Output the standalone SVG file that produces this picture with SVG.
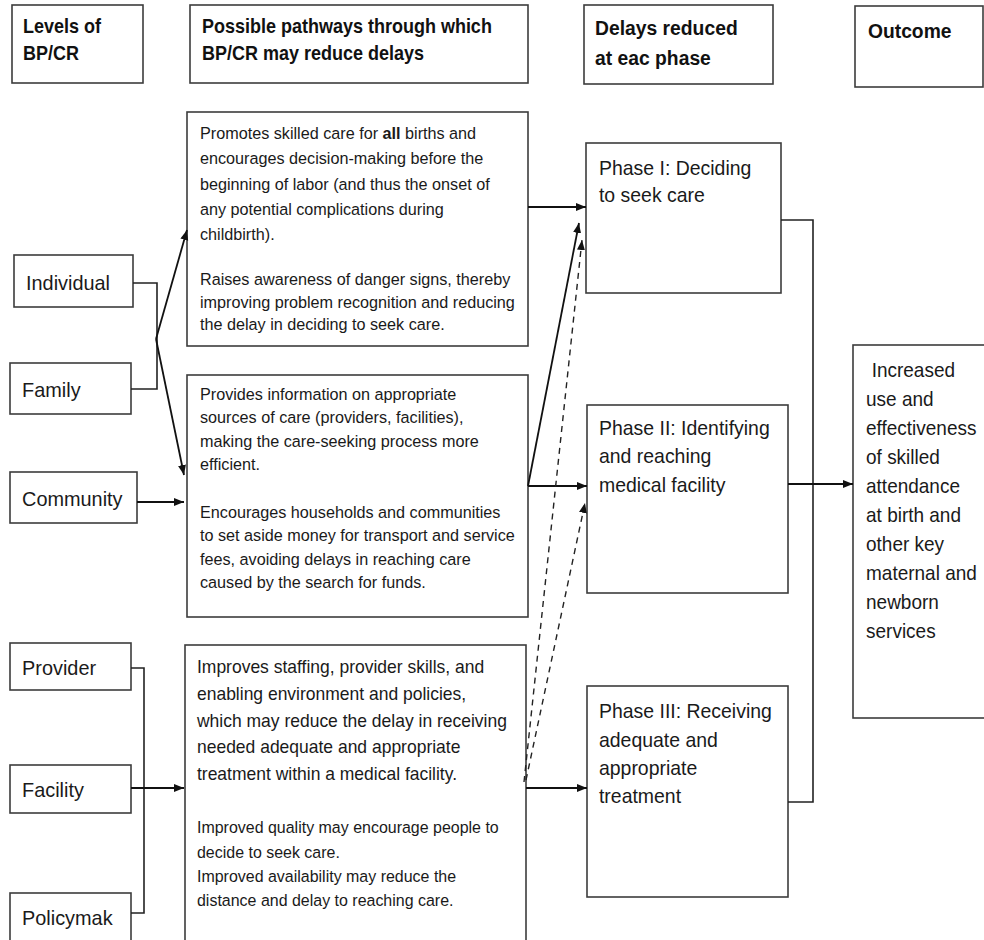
<svg xmlns="http://www.w3.org/2000/svg" width="984" height="940" viewBox="0 0 984 940">
<defs>
<marker id="arr" markerUnits="userSpaceOnUse" markerWidth="11" markerHeight="9" refX="10" refY="4" orient="auto">
<path d="M0,0 L10,4 L0,8 z" fill="#111"/>
</marker>
<style>
.box{fill:#fff;stroke:#3c3c3c;stroke-width:1.6}
.hd{font-family:"Liberation Sans",Arial,sans-serif;font-weight:bold;fill:#111;font-size:20px}
.t{font-family:"Liberation Sans",Arial,sans-serif;fill:#1a1a1a}
.c{fill:none;stroke:#222;stroke-width:1.6}
.a{fill:none;stroke:#111;stroke-width:1.8;marker-end:url(#arr)}
.d{fill:none;stroke:#222;stroke-width:1.4;stroke-dasharray:6,5;marker-end:url(#arr)}
</style>
</defs>
<rect width="984" height="940" fill="#fff"/>

<g id="hdr-levels"><rect class="box" x="12" y="5" width="131" height="78"/>
<text class="hd" transform="matrix(0.9 0 0 1 2.3 0)"><tspan x="23" y="33">Levels of</tspan><tspan x="23" y="60">BP/CR</tspan></text></g>
<g id="hdr-pathways"><rect class="box" x="190" y="5" width="338" height="78"/>
<text class="hd" transform="matrix(0.9 0 0 1 20.2 0)"><tspan x="202" y="33">Possible pathways through which</tspan><tspan x="202" y="60">BP/CR may reduce delays</tspan></text></g>
<g id="hdr-delays"><rect class="box" x="584" y="5" width="189" height="79"/>
<text class="hd" font-size="21" transform="matrix(0.92 0 0 1 47.6 0)"><tspan x="595" y="35" style="font-size:21px">Delays reduced</tspan><tspan x="595" y="65" style="font-size:21px">at eac phase</tspan></text></g>
<g id="hdr-outcome"><rect class="box" x="855" y="6" width="128" height="81"/>
<text class="hd" transform="matrix(0.94 0 0 1 52.1 0)"><tspan x="868" y="38" style="font-size:20.5px">Outcome</tspan></text></g>

<g id="individual"><rect class="box" x="14" y="255" width="119" height="52"/><text class="t" font-size="20.5" transform="matrix(0.97 0 0 1 0.8 0)" x="26" y="290">Individual</text></g>
<g id="family"><rect class="box" x="10" y="363" width="121" height="51"/><text class="t" font-size="20.5" transform="matrix(0.97 0 0 1 0.7 0)" x="22" y="397">Family</text></g>
<g id="community"><rect class="box" x="10" y="472" width="127" height="51"/><text class="t" font-size="20.5" transform="matrix(0.97 0 0 1 0.7 0)" x="22" y="506">Community</text></g>
<g id="provider"><rect class="box" x="10" y="643" width="121" height="47"/><text class="t" font-size="20.5" transform="matrix(0.97 0 0 1 0.7 0)" x="22" y="675">Provider</text></g>
<g id="facility"><rect class="box" x="10" y="765" width="121" height="48"/><text class="t" font-size="20.5" transform="matrix(0.97 0 0 1 0.7 0)" x="22" y="797">Facility</text></g>
<g id="policymaker"><rect class="box" x="10" y="893" width="121" height="60"/><text class="t" font-size="20.5" transform="matrix(0.97 0 0 1 0.7 0)" x="22" y="925">Policymak</text></g>

<g id="pathway-1"><rect class="box" x="187" y="112" width="341" height="234"/>
<text class="t" font-size="17.2" transform="matrix(0.942 0 0 1 11.6 0)">
<tspan x="200" y="139">Promotes skilled care for <tspan font-weight="bold">all</tspan> births and</tspan>
<tspan x="200" y="164">encourages decision-making before the</tspan>
<tspan x="200" y="190">beginning of labor (and thus the onset of</tspan>
<tspan x="200" y="215">any potential complications during</tspan>
<tspan x="200" y="240">childbirth).</tspan>
<tspan x="200" y="285">Raises awareness of danger signs, thereby</tspan>
<tspan x="200" y="308">improving problem recognition and reducing</tspan>
<tspan x="200" y="330">the delay in deciding to seek care.</tspan>
</text></g>

<g id="pathway-2"><rect class="box" x="187" y="375" width="341" height="242"/>
<text class="t" font-size="17.2" transform="matrix(0.942 0 0 1 11.6 0)">
<tspan x="200" y="400">Provides information on appropriate</tspan>
<tspan x="200" y="423">sources of care (providers, facilities),</tspan>
<tspan x="200" y="447">making the care-seeking process more</tspan>
<tspan x="200" y="470">efficient.</tspan>
<tspan x="200" y="518">Encourages households and communities</tspan>
<tspan x="200" y="541">to set aside money for transport and service</tspan>
<tspan x="200" y="565">fees, avoiding delays in reaching care</tspan>
<tspan x="200" y="588">caused by the search for funds.</tspan>
</text></g>

<g id="pathway-3"><rect class="box" x="185" y="645" width="341" height="310"/>
<text class="t" font-size="18.6" transform="matrix(0.94 0 0 1 11.8 0)">
<tspan x="197" y="673">Improves staffing, provider skills, and</tspan>
<tspan x="197" y="700">enabling environment and policies,</tspan>
<tspan x="197" y="727">which may reduce the delay in receiving</tspan>
<tspan x="197" y="753">needed adequate and appropriate</tspan>
<tspan x="197" y="780">treatment within a medical facility.</tspan>
</text>
<text class="t" font-size="17" transform="matrix(0.94 0 0 1 11.8 0)">
<tspan x="197" y="833">Improved quality may encourage people to</tspan>
<tspan x="197" y="858">decide to seek care.</tspan>
<tspan x="197" y="882">Improved availability may reduce the</tspan>
<tspan x="197" y="906">distance and delay to reaching care.</tspan>
</text></g>

<g id="phase-1"><rect class="box" x="586" y="143" width="195" height="150"/>
<text class="t" font-size="20.8" transform="matrix(0.935 0 0 1 38.9 0)"><tspan x="599" y="175">Phase I: Deciding</tspan><tspan x="599" y="202">to seek care</tspan></text></g>
<g id="phase-2"><rect class="box" x="587" y="405" width="201" height="188"/>
<text class="t" font-size="20.8" transform="matrix(0.935 0 0 1 38.9 0)"><tspan x="599" y="435">Phase II: Identifying</tspan><tspan x="599" y="463">and reaching</tspan><tspan x="599" y="492">medical facility</tspan></text></g>
<g id="phase-3"><rect class="box" x="587" y="686" width="201" height="211"/>
<text class="t" font-size="20.8" transform="matrix(0.935 0 0 1 38.9 0)"><tspan x="599" y="718">Phase III: Receiving</tspan><tspan x="599" y="747">adequate and</tspan><tspan x="599" y="775">appropriate</tspan><tspan x="599" y="803">treatment</tspan></text></g>

<g id="outcome"><rect class="box" x="853" y="345" width="140" height="373"/>
<text class="t" font-size="20.2" transform="matrix(0.94 0 0 1 52 0)">
<tspan x="872" y="377">Increased</tspan>
<tspan x="866" y="406">use  and</tspan>
<tspan x="866" y="435">effectiveness</tspan>
<tspan x="866" y="464">of skilled</tspan>
<tspan x="866" y="493">attendance</tspan>
<tspan x="866" y="522">at birth and</tspan>
<tspan x="866" y="551">other key</tspan>
<tspan x="866" y="580">maternal and</tspan>
<tspan x="866" y="609">newborn</tspan>
<tspan x="866" y="638">services</tspan>
</text></g>

<g id="connectors">
<polyline class="c" points="133,283 157,283 157,389 131,389"/>
<line class="a" x1="156" y1="339" x2="187" y2="230"/>
<line class="a" x1="156" y1="339" x2="184" y2="475"/>
<line class="a" x1="137" y1="502" x2="184" y2="502"/>
<polyline class="c" points="131,668 144,668 144,913 131,913"/>
<line class="a" x1="131" y1="788" x2="184" y2="788"/>
<line class="a" x1="528" y1="207" x2="586" y2="207"/>
<line class="a" x1="528" y1="486" x2="579" y2="223"/>
<line class="a" x1="528" y1="486" x2="587" y2="486"/>
<line class="d" x1="524" y1="782" x2="582" y2="240"/>
<line class="d" x1="526" y1="780" x2="585" y2="503"/>
<line class="a" x1="526" y1="788" x2="587" y2="788"/>
<polyline class="c" points="781,220 813,220 813,802 788,802"/>
<line class="a" x1="788" y1="484" x2="853" y2="484"/>
</g>
</svg>
